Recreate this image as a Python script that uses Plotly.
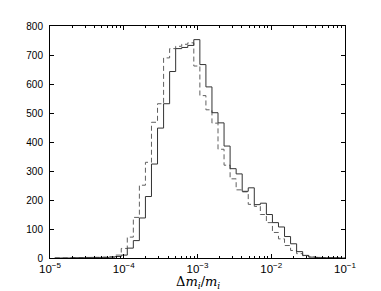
import plotly.graph_objects as go

# Histogram bins (log10 of Δm/m): first edge and common width
bin_start_log10 = -4.936
bin_width_log10 = 0.082

# Counts per bin, solid series
counts_solid = [0, 0, 0, 1, 1, 1, 2, 2, 2, 3, 5, 10,
                34, 60, 138, 212, 324, 448, 532, 643, 722, 726, 733, 753,
                667, 590, 501, 466, 386, 308, 290, 230, 242, 184, 189, 150,
                122, 107, 74, 49, 22, 9, 3, 2, 1, 1, 1, 0]

# Counts per bin, dashed series
counts_dashed = [0, 0, 1, 1, 1, 2, 2, 2, 3, 4, 10, 33,
                 72, 140, 251, 330, 468, 532, 690, 722, 730, 737, 742, 662,
                 560, 511, 465, 375, 320, 273, 235, 228, 185, 178, 150, 122,
                 88, 66, 43, 26, 15, 8, 4, 2, 1, 1, 0, 0]

x_tick_exponents = [-5, -4, -3, -2, -1]
x_tick_labels = ["10<sup>−5</sup>", "10<sup>−4</sup>", "10<sup>−3</sup>",
                 "10<sup>−2</sup>", "10<sup>−1</sup>"]
minor_mantissas = [2, 3, 4, 5, 6, 7, 8, 9]
y_tick_values = [0, 100, 200, 300, 400, 500, 600, 700, 800]


def step_xy(counts):
    n = len(counts)
    edges = [10 ** (bin_start_log10 + bin_width_log10 * k) for k in range(n + 1)]
    xs = [edges[0]] + edges[:n] + [edges[n], edges[n]]
    ys = [0] + list(counts) + [counts[-1], 0]
    return xs, ys


fig = go.Figure()
xd, yd = step_xy(counts_dashed)
fig.add_trace(go.Scatter(x=xd, y=yd, mode="lines", line_shape="hv",
                         line=dict(color="#606060", width=1, dash="5px,3px"),
                         showlegend=False, hoverinfo="skip"))
xs, ys = step_xy(counts_solid)
fig.add_trace(go.Scatter(x=xs, y=ys, mode="lines", line_shape="hv",
                         line=dict(color="#333333", width=1),
                         showlegend=False, hoverinfo="skip"))

y_font = dict(family="Liberation Sans, Arial, sans-serif", size=10, color="black")
x_font = dict(family="Liberation Sans, Arial, sans-serif", size=11.5, color="black")
minor_vals = [m * 10 ** e for e in x_tick_exponents[:-1] for m in minor_mantissas]

fig.update_layout(
    width=373, height=283,
    margin=dict(l=42, r=36, t=13, b=33),
    paper_bgcolor="white", plot_bgcolor="white",
    xaxis=dict(
        type="log", range=[-5, -1],
        tickmode="array",
        tickvals=[10 ** e for e in x_tick_exponents],
        ticktext=x_tick_labels,
        ticks="inside", ticklen=4, tickwidth=1, tickcolor="black",
        minor=dict(tickmode="array", tickvals=minor_vals, ticks="inside",
                   ticklen=2, tickcolor="black", showgrid=False),
        showline=True, linecolor="black", linewidth=1, mirror="ticks",
        showgrid=False, zeroline=False, tickfont=x_font,
    ),
    yaxis=dict(
        range=[0, 800], tickvals=y_tick_values,
        ticks="inside", ticklen=4, tickwidth=1, tickcolor="black",
        ticklabelstandoff=4,
        showline=True, linecolor="black", linewidth=1, mirror="ticks",
        showgrid=False, zeroline=False, tickfont=y_font,
    ),
    annotations=[dict(
        text="Δ<i>m<sub>i</sub></i>/<i>m<sub>i</sub></i>",
        xref="paper", yref="paper", x=0.5, y=0, yshift=-14,
        xanchor="center", yanchor="top", showarrow=False,
        font=dict(family="DejaVu Serif, Liberation Serif, serif", size=13, color="black"),
    )],
)

fig.write_html("out.html")
